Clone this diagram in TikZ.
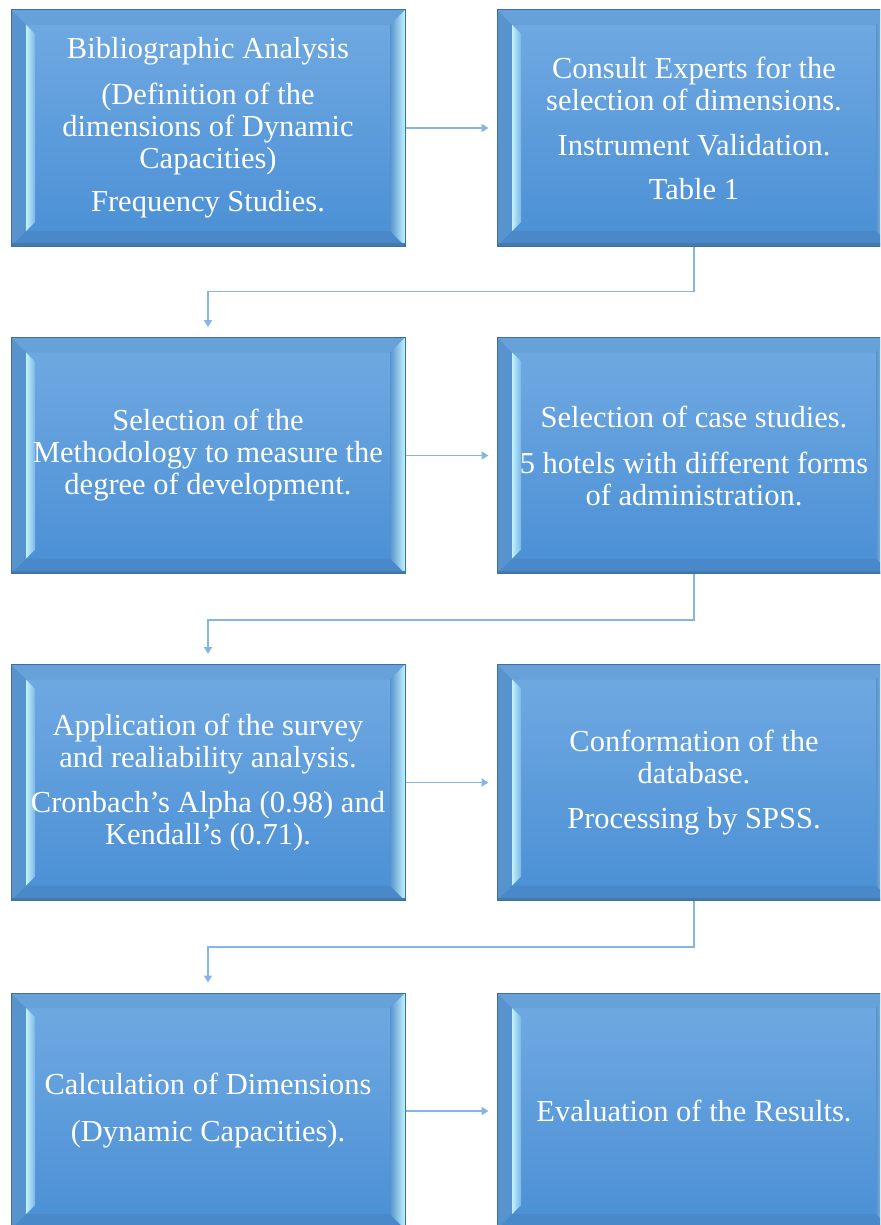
\documentclass[tikz,border=0pt]{standalone}
\usepackage{fontspec}
\setmainfont{Liberation Serif}
\usetikzlibrary{arrows.meta}
\definecolor{faceT}{HTML}{71AAE2}
\definecolor{faceB}{HTML}{4A8FD5}
\definecolor{topc}{HTML}{67A1DA}
\definecolor{botc}{HTML}{4A89C9}
\definecolor{sidec}{HTML}{5793CD}
\definecolor{glow}{HTML}{BFF3FF}
\definecolor{borderc}{HTML}{3F6F9F}
\definecolor{connc}{HTML}{84B5E6}
\def\bw{15pt}
\tikzset{
  bevelbox/.style={rectangle, minimum width=394pt, minimum height=236pt, inner sep=0pt,
    draw=borderc, line width=1pt, text=white, align=center,
    font=\fontsize{30.5}{32}\selectfont,
    path picture={
      \coordinate (SW) at (path picture bounding box.south west);
      \coordinate (NE) at (path picture bounding box.north east);
      \coordinate (NW) at (path picture bounding box.north west);
      \coordinate (SE) at (path picture bounding box.south east);
      \shade[top color=faceT, bottom color=faceB] (SW) rectangle (NE);
      \fill[topc] (NW) -- (NE) -- ([shift={(-\bw,-\bw)}]NE) -- ([shift={(\bw,-\bw)}]NW) -- cycle;
      \fill[botc] (SW) -- (SE) -- ([shift={(-\bw,\bw)}]SE) -- ([shift={(\bw,\bw)}]SW) -- cycle;
      \fill[sidec] (NW) -- ([shift={(\bw,-\bw)}]NW) -- ([shift={(\bw,\bw)}]SW) -- (SW) -- cycle;
      \shade[left color=glow, right color=faceT!85!glow] ([shift={(\bw,-\bw)}]NW) -- ([shift={(\bw+9pt,-\bw-9pt)}]NW) -- ([shift={(\bw+9pt,\bw+9pt)}]SW) -- ([shift={(\bw,\bw)}]SW) -- cycle;
      \shade[left color=sidec, right color=glow] (NE) -- ([shift={(-\bw,-\bw)}]NE) -- ([shift={(-\bw,\bw)}]SE) -- (SE) -- cycle;
      \fill[borderc!70!sidec] ([yshift=3pt]SW) rectangle (SE);
    }},
  conn/.style={draw=connc, line width=1.7pt, -{Triangle[length=7pt,width=8pt]}}
}
\begin{document}
\begin{tikzpicture}[x=1pt,y=-1pt]
\useasboundingbox (0,0) rectangle (880,1225);
\clip (0,0) rectangle (880,1225);
\node[bevelbox] (b1) at (208,128) {Bibliographic Analysis\\[14pt](Definition of the\\dimensions of Dynamic\\Capacities)\\[11pt]Frequency Studies.};
\node[bevelbox] (b2) at (694,128) {Consult Experts for the\\selection of dimensions.\\[13pt]Instrument Validation.\\[12pt]Table 1};
\node[bevelbox] (b3) at (208,455.5) {Selection of the\\Methodology to measure the\\degree of development.};
\node[bevelbox] (b4) at (694,455.5) {Selection of case studies.\\[14pt]5 hotels with different forms\\of administration.};
\node[bevelbox] (b5) at (208,782.5) {Application of the survey\\and realiability analysis.\\[13pt]Cronbach's Alpha (0.98) and\\Kendall's (0.71).};
\node[bevelbox] (b6) at (694,782.5) {Conformation of the\\database.\\[13pt]Processing by SPSS.};
\node[bevelbox] (b7) at (208,1111) {Calculation of Dimensions\\[15pt](Dynamic Capacities).};
\node[bevelbox] (b8) at (694,1111) {Evaluation of the Results.};
\draw[conn] (b1.east) -- ([xshift=-8pt]b2.west);
\draw[conn] (b3.east) -- ([xshift=-8pt]b4.west);
\draw[conn] (b5.east) -- ([xshift=-8pt]b6.west);
\draw[conn] (b7.east) -- ([xshift=-8pt]b8.west);
\draw[conn] (b2.south) -- ++(0,45) -| ([yshift=10pt]b3.north);
\draw[conn] (b4.south) -- ++(0,46) -| ([yshift=10pt]b5.north);
\draw[conn] (b6.south) -- ++(0,46) -| ([yshift=10pt]b7.north);
\end{tikzpicture}
\end{document}
